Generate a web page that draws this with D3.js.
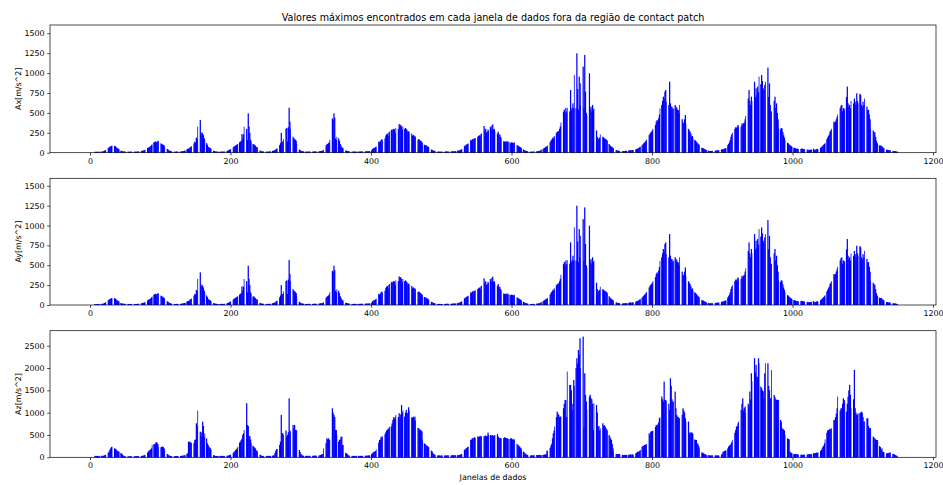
<!DOCTYPE html>
<html>
<head>
<meta charset="utf-8">
<script src="https://cdn.jsdelivr.net/npm/d3@7"></script>
<style>
  body { margin: 0; background: #fff; }
  text { font-family: "DejaVu Sans", sans-serif; }
</style>
</head>
<body>
<svg id="chart" width="943" height="485"></svg>
<script>
// max value per data window, index = window number (0..1149)
const axValues = [
  0,0,0,0,8,10,9,12,10,11,
  12,10,13,11,14,12,15,13,16,18,
  25,30,36,42,48,54,60,68,75,80,
  85,88,92,135,90,86,80,70,62,55,
  48,42,36,30,25,20,18,16,15,14,
  14,13,12,13,14,12,11,13,12,14,
  12,13,11,12,14,13,12,15,14,16,
  17,18,20,22,24,26,28,32,36,40,
  46,52,58,64,70,76,84,95,105,116,
  122,130,136,140,128,138,150,142,132,128,
  122,117,110,104,96,90,76,70,62,56,
  48,40,32,25,20,18,16,15,14,13,
  14,12,13,15,12,14,13,15,16,14,
  16,18,20,22,25,28,32,38,42,48,
  50,58,66,75,82,92,100,108,117,140,
  130,190,175,327,255,300,320,410,230,255,
  243,220,180,160,135,140,120,100,75,70,
  62,55,48,42,36,30,25,20,16,15,
  14,13,12,14,12,13,11,14,15,13,
  14,16,15,18,20,22,26,30,35,42,
  45,50,56,63,70,78,85,92,96,105,
  110,117,125,132,138,150,235,180,230,327,
  320,315,272,300,160,494,330,250,160,140,
  125,117,105,110,96,88,75,70,62,50,
  42,35,28,22,18,16,15,14,13,12,
  13,14,12,15,13,14,16,15,18,20,
  22,25,28,33,40,48,56,63,72,82,
  96,120,250,140,138,170,305,280,410,300,
  310,140,320,565,390,300,293,270,220,200,
  180,175,160,150,110,85,75,55,40,33,
  25,20,18,16,15,14,13,14,12,13,
  14,15,13,14,16,15,14,13,15,16,
  14,16,15,17,16,18,17,19,20,22,
  24,28,35,60,75,85,90,105,110,120,
  130,160,330,390,420,430,410,494,440,180,
  160,200,390,380,180,150,110,88,70,60,
  54,45,38,32,28,25,22,20,18,16,
  15,14,13,14,12,13,15,14,13,12,
  14,13,15,14,13,16,14,15,17,16,
  15,17,16,18,17,19,18,20,19,22,
  25,30,45,55,60,63,70,80,95,110,
  125,138,130,145,160,170,150,185,195,200,
  180,215,230,240,210,255,264,270,240,285,
  293,280,300,295,250,310,305,320,335,300,
  360,345,350,330,290,327,320,315,300,310,
  297,285,260,270,255,243,250,235,240,210,
  222,215,200,205,190,180,175,165,170,160,
  150,145,130,125,117,110,100,95,92,90,
  80,72,65,58,54,48,40,35,30,25,
  22,20,18,16,15,14,13,14,12,13,
  14,12,13,15,14,13,15,14,16,15,
  14,16,15,17,16,15,18,17,19,18,
  20,19,22,24,26,28,30,35,40,48,
  55,62,75,82,90,98,105,109,118,125,
  135,145,160,150,170,175,165,180,185,175,
  195,190,200,210,220,205,235,243,250,260,
  240,335,280,300,250,264,290,275,310,280,
  327,300,340,356,290,300,272,260,250,265,
  240,264,220,230,200,180,185,160,150,145,
  138,140,130,147,135,140,125,130,128,120,
  130,125,118,130,122,130,110,105,95,90,
  82,75,70,63,58,50,45,40,33,28,
  25,20,18,16,15,14,15,13,14,12,
  13,15,14,16,15,17,18,16,20,22,
  25,30,40,63,50,46,55,60,70,75,
  80,90,75,100,117,130,150,165,180,195,
  180,210,230,243,250,260,270,272,300,330,
  380,272,420,480,515,540,500,560,515,565,
  540,565,600,520,787,540,565,620,560,976,
  700,600,560,1249,800,540,955,600,871,700,
  520,620,1081,560,1228,767,500,473,560,420,
  600,997,550,578,520,600,540,557,480,410,
  410,280,200,180,170,190,230,264,255,240,
  200,190,180,175,170,160,150,147,130,110,
  95,85,75,68,60,54,48,42,38,34,
  30,26,24,22,20,18,20,22,18,20,
  22,20,24,22,26,24,28,26,30,32,
  28,30,34,32,36,40,38,42,46,50,
  55,62,70,75,80,85,95,105,117,125,
  140,150,165,180,175,200,220,240,255,264,
  280,300,290,306,330,350,390,410,400,432,
  480,557,520,578,600,650,704,680,767,787,
  640,700,725,680,600,892,620,580,578,550,
  557,600,520,600,580,566,540,536,500,600,
  560,480,746,420,369,380,420,473,360,327,
  340,348,300,280,264,240,200,210,180,175,
  165,160,150,138,125,115,105,95,88,80,
  70,62,58,54,48,42,38,34,30,28,
  26,24,22,20,22,24,20,22,24,26,
  25,28,30,26,32,30,34,38,36,40,
  42,45,48,52,55,60,70,80,96,110,
  130,160,200,230,250,270,290,305,300,320,
  310,330,348,320,340,300,360,330,369,350,
  369,380,420,460,494,560,620,680,787,650,
  600,704,650,760,800,780,892,700,809,720,
  830,760,955,900,820,860,976,900,809,780,
  850,892,700,767,620,1068,700,871,600,520,
  515,480,600,580,650,704,560,620,500,420,
  305,320,300,290,310,305,260,220,190,160,
  150,140,130,125,117,105,95,88,80,75,
  70,65,63,58,55,50,52,48,45,50,
  55,46,48,52,50,45,42,46,40,38,
  36,40,34,38,32,36,40,38,42,46,
  50,33,40,38,45,48,42,50,52,54,
  60,70,80,90,100,110,125,138,150,170,
  190,210,230,264,280,300,320,350,370,390,
  380,390,420,450,480,515,500,540,560,590,
  600,520,560,540,557,600,650,700,830,620,
  580,600,560,650,700,704,600,620,680,640,
  600,746,650,620,700,680,740,725,600,578,
  640,600,680,640,560,620,580,540,536,480,
  420,300,285,300,270,280,260,256,200,150,
  120,110,96,100,92,88,90,80,70,60,
  55,46,42,40,38,36,35,33,30,28,
  26,24,22,20,22,18,20,16,14,12
];

// the Ay panel reads the same as Ax
const ayValues = axValues.slice();

const azValues = [
  0,0,0,0,25,30,28,32,30,31,
  30,32,29,33,30,31,34,32,30,35,
  45,52,60,75,90,100,105,130,170,202,
  230,239,235,224,215,202,190,175,150,140,
  127,130,122,110,95,85,60,40,30,25,
  22,20,24,21,23,20,25,22,24,21,
  23,25,22,24,26,23,25,27,24,26,
  25,28,26,30,32,35,40,48,55,65,
  75,90,105,130,150,164,180,202,280,250,
  276,290,299,310,340,329,300,239,230,224,
  228,224,235,239,230,200,164,140,105,90,
  75,60,45,35,30,28,25,27,24,26,
  25,28,26,30,27,29,31,28,33,30,
  32,35,38,40,45,50,60,70,80,90,
  351,340,351,329,320,314,340,300,320,388,
  400,762,700,1046,896,600,850,575,470,560,
  800,700,463,538,500,550,420,314,280,239,
  220,200,164,130,90,70,50,40,30,28,
  30,28,32,29,31,30,33,30,28,32,
  31,29,33,30,32,34,36,40,45,55,
  60,65,70,75,100,120,140,164,180,200,
  239,260,314,330,350,388,420,500,540,612,
  600,700,1173,1210,725,700,463,480,400,314,
  300,276,260,239,220,200,164,140,127,100,
  90,75,60,45,35,30,28,32,30,29,
  31,28,33,30,32,29,31,34,30,33,
  35,40,45,100,150,180,190,202,230,250,
  276,350,949,540,538,500,340,950,986,600,
  463,500,560,1322,600,575,520,480,463,725,
  650,725,612,600,612,400,239,200,164,120,
  75,55,40,35,32,30,33,31,35,32,
  30,34,31,33,36,32,35,33,37,34,
  36,38,35,40,38,42,40,45,50,60,
  70,75,200,276,300,314,320,425,400,425,
  388,400,388,687,650,1098,1000,949,900,612,
  612,500,300,276,350,388,400,463,460,276,
  276,200,164,130,100,90,70,50,40,35,
  30,32,29,31,30,33,31,28,32,30,
  31,29,33,30,32,31,34,30,33,32,
  35,33,36,34,38,36,40,42,45,50,
  60,75,90,110,127,127,140,180,230,276,
  276,330,388,400,463,440,470,463,500,538,
  520,560,600,612,650,640,687,700,725,690,
  760,837,896,860,900,949,920,874,874,900,
  986,900,960,1173,1000,1050,911,960,911,1000,
  1061,980,1000,1120,1050,1020,949,949,900,880,
  911,880,911,820,725,700,687,660,650,620,
  612,600,580,400,351,330,314,300,276,260,
  250,239,220,210,200,180,150,130,90,75,
  60,52,48,45,40,42,38,45,40,35,
  42,38,45,40,36,44,40,38,42,46,
  40,44,38,42,45,40,48,44,46,42,
  48,45,50,46,52,50,55,60,70,75,
  100,127,140,164,180,200,210,230,239,260,
  314,330,388,400,425,425,440,448,430,448,
  460,448,470,450,463,480,463,470,448,478,
  470,478,460,490,470,480,553,500,523,510,
  500,490,480,500,470,490,500,538,480,490,
  520,463,440,425,430,425,440,425,448,430,
  448,440,425,430,420,410,400,420,410,425,
  425,400,388,410,388,388,350,314,300,276,
  260,240,220,200,179,160,140,127,110,90,
  75,60,52,45,30,35,40,38,42,45,
  40,44,48,45,50,46,52,48,50,55,
  52,48,50,45,52,55,58,60,62,70,
  150,140,160,180,202,210,260,300,425,538,
  600,687,750,837,900,1023,980,949,900,911,
  911,1000,1050,1135,1100,1200,1285,1285,900,1920,
  1400,1700,1600,1621,1621,1500,1061,1200,1733,1600,
  1546,1400,2000,2219,2100,2405,2300,2667,2000,1658,
  2500,2200,2704,650,1882,1400,1247,1061,1400,1658,
  1500,1360,1400,1322,1300,1200,612,1210,1150,1173,
  1100,1173,1000,687,700,600,650,700,800,780,
  762,700,720,687,650,620,600,590,575,500,
  463,420,388,300,200,127,110,90,80,75,
  75,70,75,72,65,60,55,52,55,50,
  52,55,50,52,56,54,58,55,60,62,
  58,62,60,65,70,75,80,90,100,127,
  120,127,150,164,180,200,239,250,260,276,
  276,290,299,305,314,320,538,500,575,580,
  590,600,612,612,650,680,725,700,740,780,
  874,900,1061,1200,1360,1300,1250,1696,1285,1285,
  1260,1285,1300,1397,1200,1061,1770,1600,1300,1247,
  1247,1200,1100,1472,1100,949,911,900,874,874,
  874,860,800,950,1098,1050,1000,875,800,575,
  700,874,800,538,560,540,560,538,520,480,
  425,400,388,388,314,300,250,202,180,150,
  127,110,100,90,80,70,60,52,50,48,
  45,50,42,40,38,45,40,42,45,40,
  42,45,40,38,44,40,48,45,50,60,
  80,127,130,140,150,160,164,180,200,239,
  260,276,300,340,388,425,450,460,550,612,
  687,700,762,800,949,1135,1100,1061,1200,1322,
  1050,1100,1135,1000,986,1050,1285,1200,1150,1472,
  1300,1882,1700,1650,1621,1700,2219,1900,2069,1808,
  1800,2219,2107,2000,1584,1584,1546,1500,1480,1322,
  1882,2107,1700,1900,1300,2107,1600,1500,1322,1320,
  1957,1600,1400,1380,1397,1350,1300,1285,1285,1285,
  1285,911,911,837,800,650,640,620,600,500,
  480,463,440,425,410,400,127,110,95,90,
  85,80,75,70,72,68,70,65,60,62,
  58,55,60,56,52,58,55,60,62,58,
  60,64,62,66,70,68,72,75,80,85,
  90,88,95,100,105,98,110,115,120,127,
  140,164,200,239,260,314,400,463,520,550,
  600,612,620,640,630,650,680,725,750,837,
  837,900,980,1098,1360,1100,1098,1061,1050,1098,
  1098,1200,1322,1285,1250,1100,1023,1023,1200,1360,
  1500,1621,1400,1100,1285,1285,1397,1300,1957,1100,
  1000,949,960,986,980,986,990,1000,1023,1000,
  900,800,800,820,1360,1000,874,874,700,650,
  660,650,687,650,600,463,440,425,400,388,
  388,380,388,300,250,230,164,200,127,120,
  110,100,95,90,88,92,95,100,105,110,
  100,95,90,80,70,60,52,45,30,20
];

const xTicks = [0, 200, 400, 600, 800, 1000, 1200];
const yTicksXY = [0, 250, 500, 750, 1000, 1250, 1500];
const yTicksZ = [0, 500, 1000, 1500, 2000, 2500];
const yLabels = ['Ax[m/s^2]', 'Ay[m/s^2]', 'Az[m/s^2]'];
const titleText = 'Valores máximos encontrados em cada janela de dados fora da região de contact patch';
const xLabelText = 'Janelas de dados';

const left = 50, right = 936;
const barWidth = 0.8;
// the figure was rendered larger and shrunk; bars were pixel-snapped at that size
const srcScale = 1.272;

const panels = [
  { values: axValues, label: yLabels[0], ticks: yTicksXY, yMax: 1604, top: 25, bottom: 152.7 },
  { values: ayValues, label: yLabels[1], ticks: yTicksXY, yMax: 1594, top: 178.3, bottom: 305 },
  { values: azValues, label: yLabels[2], ticks: yTicksZ, yMax: 2836, top: 330.7, bottom: 457.3 }
];

const svg = d3.select('#chart');

const x = d3.scaleLinear().domain([-57, 1204.3]).range([left, right]);

// snap a bar to whole pixels of the larger source image
function snapBar(i) {
  const a = Math.round(x(i - barWidth / 2) * srcScale);
  const b = Math.round(x(i + barWidth / 2) * srcScale);
  return { a: a, b: b };
}

svg.append('text')
  .attr('x', (left + right) / 2)
  .attr('y', 20.5)
  .attr('text-anchor', 'middle')
  .attr('font-size', '9.6px')
  .attr('fill', '#000')
  .text(titleText);

panels.forEach(function (p) {
  const y = d3.scaleLinear().domain([0, p.yMax]).range([p.bottom, p.top]);
  const g = svg.append('g');

  const bars = p.values
    .map((v, i) => Object.assign({ i: i, v: v }, snapBar(i)))
    .filter(d => d.v > 0 && d.b > d.a);
  // abutting bars overlap a little so the seam does not show as a pale line
  bars.forEach((d, k) => {
    const next = bars[k + 1];
    d.extra = next && next.a === d.b ? 0.45 : 0;
  });

  g.append('g')
    .selectAll('rect')
    .data(bars)
    .join('rect')
    .attr('x', d => d.a / srcScale)
    .attr('width', d => (d.b - d.a) / srcScale + d.extra)
    .attr('y', d => y(d.v))
    .attr('height', d => y(0) - y(d.v))
    .attr('fill', '#0000ff');

  // axes
  const xAxis = g.append('g')
    .attr('transform', 'translate(0,' + p.bottom + ')')
    .call(d3.axisBottom(x).tickValues(xTicks).tickSize(2.8).tickPadding(2.6).tickFormat(d3.format('d')));
  const yAxis = g.append('g')
    .attr('transform', 'translate(' + left + ',0)')
    .call(d3.axisLeft(y).tickValues(p.ticks).tickSize(2.8).tickPadding(2.6).tickFormat(d3.format('d')));

  [xAxis, yAxis].forEach(function (a) {
    a.select('.domain').remove();
    a.selectAll('line').attr('stroke', '#000').attr('stroke-width', 0.7);
    a.selectAll('text')
      .attr('font-size', '7.9px')
      .attr('fill', '#000')
      .style('font-family', '"DejaVu Sans", sans-serif');
  });

  // frame
  g.append('rect')
    .attr('x', left)
    .attr('y', p.top)
    .attr('width', right - left)
    .attr('height', p.bottom - p.top)
    .attr('fill', 'none')
    .attr('stroke', '#000')
    .attr('stroke-width', 0.7);

  g.append('text')
    .attr('transform', 'translate(20.5,' + ((p.top + p.bottom) / 2) + ') rotate(-90)')
    .attr('text-anchor', 'middle')
    .attr('font-size', '7.9px')
    .attr('fill', '#000')
    .text(p.label);
});

svg.append('text')
  .attr('x', (left + right) / 2)
  .attr('y', 480)
  .attr('text-anchor', 'middle')
  .attr('font-size', '7.9px')
  .attr('fill', '#000')
  .text(xLabelText);
</script>
</body>
</html>
